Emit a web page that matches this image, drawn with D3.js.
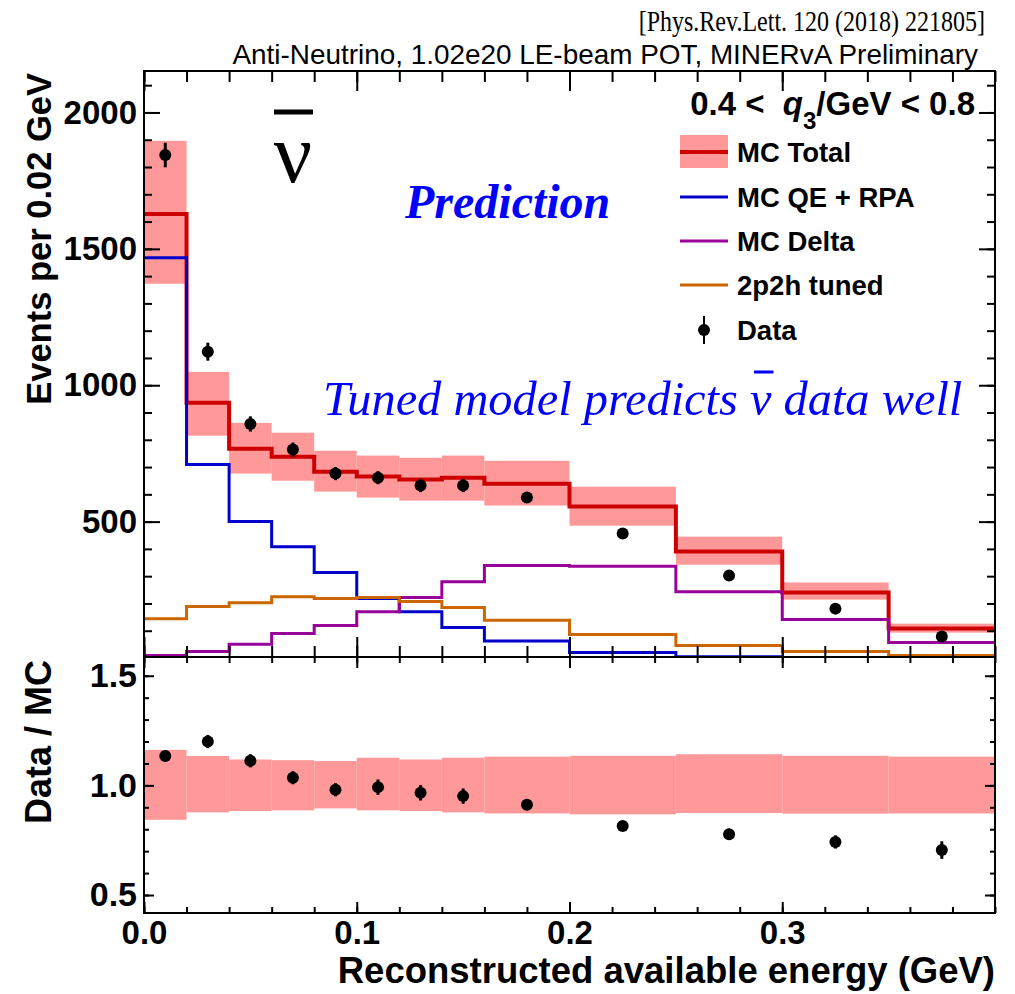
<!DOCTYPE html>
<html>
<head>
<meta charset="utf-8">
<script src="https://cdn.jsdelivr.net/npm/d3@7"></script>
<style>
body { margin: 0; background: #fff; }
svg text { font-family: "Liberation Sans", Arial, Helvetica, sans-serif; }
.serif { font-family: "Liberation Serif", "Times New Roman", serif !important; }
</style>
</head>
<body>
<div id="chart"></div>
<script>
// bin edges of reconstructed available energy (GeV)
var binEdges = [0, 0.02, 0.04, 0.06, 0.08, 0.10, 0.12, 0.14, 0.16, 0.20, 0.25, 0.30, 0.35, 0.40];

// events per 0.02 GeV
var dataVals = [1844, 1123, 858, 764, 676, 661, 632, 632, 588, 456, 302, 181, 79];
var dataErr  = [45, 33, 28, 26, 24, 24, 24, 24, 16, 14, 12, 11, 10];
var mcTotal  = [1628, 936, 767, 738, 683, 665, 654, 661, 639, 555, 390, 240, 108];
var mcHi     = [1896, 1049, 862, 826, 760, 742, 734, 742, 723, 628, 445, 277, 126];
var mcLo     = [1372, 815, 676, 650, 610, 588, 577, 577, 559, 485, 342, 214, 93];
var qeRpa    = [1467, 709, 500, 408, 313, 218, 170, 112, 62, 20, 5, 2, 1];
var delta    = [9, 24, 50, 90, 119, 170, 222, 280, 339, 336, 243, 141, 57];
var twoP2h   = [144, 189, 203, 225, 218, 222, 207, 185, 138, 86, 46, 24, 9];

// ratio panel
var ratioVals = [1.134, 1.20, 1.112, 1.035, 0.98, 0.992, 0.966, 0.951, 0.912, 0.815, 0.777, 0.742, 0.705];
var ratioErr  = [0.025, 0.03, 0.03, 0.03, 0.03, 0.035, 0.035, 0.035, 0.025, 0.02, 0.025, 0.03, 0.04];
var bandHi    = [1.162, 1.134, 1.118, 1.115, 1.111, 1.126, 1.118, 1.126, 1.131, 1.135, 1.142, 1.135, 1.131];
var bandLo    = [0.843, 0.877, 0.883, 0.886, 0.895, 0.886, 0.883, 0.877, 0.872, 0.868, 0.874, 0.871, 0.872];

var upperTicks = [500, 1000, 1500, 2000];
var ratioTicks = [0.5, 1.0, 1.5];
var xTicks = [0, 0.1, 0.2, 0.3];

var legendItems = [
    {label: "MC Total", color: "#cc0000", kind: "band"},
    {label: "MC QE + RPA", color: "#0000cc", kind: "line"},
    {label: "MC Delta", color: "#990099", kind: "line"},
    {label: "2p2h tuned", color: "#cc6600", kind: "line"},
    {label: "Data", color: "#000", kind: "point"}
];

var width = 1015, height = 994;
var left = 144, right = 995, topY = 71, midY = 657, botY = 913;

var svg = d3.select("#chart").append("svg")
    .attr("width", width)
    .attr("height", height);

var x = d3.scaleLinear().domain([0, 0.4]).range([left, right]);
var yUp = d3.scaleLinear().domain([0, 2152]).range([658, topY]);
var yLo = d3.scaleLinear().domain([0.418, 1.59]).range([botY, 656]);

var bins = d3.range(dataVals.length);
var center = function (i) { return (binEdges[i] + binEdges[i + 1]) / 2; };

svg.append("clipPath").attr("id", "clipUp")
    .append("rect").attr("x", left).attr("y", topY).attr("width", right - left).attr("height", midY - topY);

// --> UPPER PANEL
var up = svg.append("g").attr("clip-path", "url(#clipUp)");

up.selectAll("rect.band")
    .data(bins)
    .enter().append("rect")
    .attr("class", "band")
    .attr("x", function (i) { return x(binEdges[i]); })
    .attr("width", function (i) { return x(binEdges[i + 1]) - x(binEdges[i]); })
    .attr("y", function (i) { return yUp(mcHi[i]); })
    .attr("height", function (i) { return yUp(mcLo[i]) - yUp(mcHi[i]); })
    .attr("fill", "#ff9999");

function stepPath(vals) {
    var pts = vals.map(function (v, i) { return [binEdges[i], v]; });
    pts.push([binEdges[binEdges.length - 1], vals[vals.length - 1]]);
    return d3.line()
        .x(function (d) { return x(d[0]); })
        .y(function (d) { return yUp(d[1]); })
        .curve(d3.curveStepAfter)(pts);
}

up.append("path").attr("d", stepPath(mcTotal)).attr("fill", "none").attr("stroke", "#cc0000").attr("stroke-width", 4);
up.append("path").attr("d", stepPath(qeRpa)).attr("fill", "none").attr("stroke", "#0000cc").attr("stroke-width", 3);
up.append("path").attr("d", stepPath(delta)).attr("fill", "none").attr("stroke", "#990099").attr("stroke-width", 3);
up.append("path").attr("d", stepPath(twoP2h)).attr("fill", "none").attr("stroke", "#cc6600").attr("stroke-width", 3);

up.selectAll("line.err")
    .data(bins)
    .enter().append("line")
    .attr("class", "err")
    .attr("x1", function (i) { return x(center(i)); })
    .attr("x2", function (i) { return x(center(i)); })
    .attr("y1", function (i) { return yUp(dataVals[i] + dataErr[i]); })
    .attr("y2", function (i) { return yUp(dataVals[i] - dataErr[i]); })
    .attr("stroke", "#000").attr("stroke-width", 3);

up.selectAll("circle.pt")
    .data(bins)
    .enter().append("circle")
    .attr("class", "pt")
    .attr("cx", function (i) { return x(center(i)); })
    .attr("cy", function (i) { return yUp(dataVals[i]); })
    .attr("r", 6)
    .attr("fill", "#000");

// --> LOWER PANEL
var lo = svg.append("g");

lo.selectAll("rect.band")
    .data(bins)
    .enter().append("rect")
    .attr("class", "band")
    .attr("x", function (i) { return x(binEdges[i]); })
    .attr("width", function (i) { return x(binEdges[i + 1]) - x(binEdges[i]); })
    .attr("y", function (i) { return yLo(bandHi[i]); })
    .attr("height", function (i) { return yLo(bandLo[i]) - yLo(bandHi[i]); })
    .attr("fill", "#ff9999");

lo.selectAll("line.err")
    .data(bins)
    .enter().append("line")
    .attr("class", "err")
    .attr("x1", function (i) { return x(center(i)); })
    .attr("x2", function (i) { return x(center(i)); })
    .attr("y1", function (i) { return yLo(ratioVals[i] + ratioErr[i]); })
    .attr("y2", function (i) { return yLo(ratioVals[i] - ratioErr[i]); })
    .attr("stroke", "#000").attr("stroke-width", 3);

lo.selectAll("circle.pt")
    .data(bins)
    .enter().append("circle")
    .attr("class", "pt")
    .attr("cx", function (i) { return x(center(i)); })
    .attr("cy", function (i) { return yLo(ratioVals[i]); })
    .attr("r", 6)
    .attr("fill", "#000");

// --> AXES
function cleanAxis(g) {
    g.select(".domain").remove();
    g.selectAll(".tick line").attr("stroke", "#000").attr("stroke-width", 2);
}

var minorX = d3.range(0, 0.4001, 0.02);

// upper panel x ticks (top and bottom, inward)
svg.append("g").attr("transform", "translate(0," + topY + ")")
    .call(d3.axisTop(x).tickValues(minorX).tickSize(-11).tickFormat("")).call(cleanAxis);
svg.append("g").attr("transform", "translate(0," + topY + ")")
    .call(d3.axisTop(x).tickValues(xTicks).tickSize(-20).tickFormat("")).call(cleanAxis);
svg.append("g").attr("transform", "translate(0," + midY + ")")
    .call(d3.axisBottom(x).tickValues(minorX).tickSize(-11).tickFormat("")).call(cleanAxis);
svg.append("g").attr("transform", "translate(0," + midY + ")")
    .call(d3.axisBottom(x).tickValues(xTicks).tickSize(-20).tickFormat("")).call(cleanAxis);

// upper panel y ticks
var minorUp = d3.range(100, 2152, 100);
svg.append("g").attr("transform", "translate(" + left + ",0)")
    .call(d3.axisLeft(yUp).tickValues(minorUp).tickSize(-8).tickFormat("")).call(cleanAxis);
svg.append("g").attr("class", "ylab").attr("transform", "translate(" + left + ",0)")
    .call(d3.axisLeft(yUp).tickValues(upperTicks).tickSize(-16).tickPadding(7).tickFormat(d3.format("d"))).call(cleanAxis);
svg.append("g").attr("transform", "translate(" + right + ",0)")
    .call(d3.axisRight(yUp).tickValues(minorUp).tickSize(-8).tickFormat("")).call(cleanAxis);
svg.append("g").attr("transform", "translate(" + right + ",0)")
    .call(d3.axisRight(yUp).tickValues(upperTicks).tickSize(-16).tickFormat("")).call(cleanAxis);

// lower panel x ticks
svg.append("g").attr("transform", "translate(0," + midY + ")")
    .call(d3.axisTop(x).tickValues(minorX).tickSize(-6).tickFormat("")).call(cleanAxis);
svg.append("g").attr("transform", "translate(0," + midY + ")")
    .call(d3.axisTop(x).tickValues(xTicks).tickSize(-11).tickFormat("")).call(cleanAxis);
svg.append("g").attr("transform", "translate(0," + botY + ")")
    .call(d3.axisBottom(x).tickValues(minorX).tickSize(-6).tickFormat("")).call(cleanAxis);
svg.append("g").attr("class", "xlab").attr("transform", "translate(0," + botY + ")")
    .call(d3.axisBottom(x).tickValues(xTicks).tickSize(-11).tickPadding(8).tickFormat(d3.format(".1f"))).call(cleanAxis);

// lower panel y ticks
var minorLo = d3.range(0.5, 1.59, 0.1);
svg.append("g").attr("transform", "translate(" + left + ",0)")
    .call(d3.axisLeft(yLo).tickValues(minorLo).tickSize(-5).tickFormat("")).call(cleanAxis);
svg.append("g").attr("class", "ylab2").attr("transform", "translate(" + left + ",0)")
    .call(d3.axisLeft(yLo).tickValues(ratioTicks).tickSize(-10).tickPadding(7).tickFormat(d3.format(".1f"))).call(cleanAxis);
svg.append("g").attr("transform", "translate(" + right + ",0)")
    .call(d3.axisRight(yLo).tickValues(minorLo).tickSize(-5).tickFormat("")).call(cleanAxis);
svg.append("g").attr("transform", "translate(" + right + ",0)")
    .call(d3.axisRight(yLo).tickValues(ratioTicks).tickSize(-10).tickFormat("")).call(cleanAxis);

svg.selectAll(".ylab text")
    .attr("font-family", "Liberation Sans, Arial, sans-serif")
    .attr("font-size", 33).attr("font-weight", "bold").attr("fill", "#000");
svg.selectAll(".ylab2 text")
    .attr("font-family", "Liberation Sans, Arial, sans-serif")
    .attr("font-size", 34).attr("font-weight", "bold").attr("fill", "#000");
svg.selectAll(".xlab text")
    .attr("font-family", "Liberation Sans, Arial, sans-serif")
    .attr("font-size", 33).attr("font-weight", "bold").attr("fill", "#000");

// frames
svg.append("rect").attr("x", left).attr("y", topY).attr("width", right - left).attr("height", midY - topY)
    .attr("fill", "none").attr("stroke", "#000").attr("stroke-width", 2);
svg.append("rect").attr("x", left).attr("y", midY).attr("width", right - left).attr("height", botY - midY)
    .attr("fill", "none").attr("stroke", "#000").attr("stroke-width", 2);

// axis titles
svg.append("text")
    .attr("transform", "translate(51," + (topY + 2) + ") rotate(-90)")
    .attr("text-anchor", "end")
    .attr("font-size", 34.5).attr("font-weight", "bold")
    .text("Events per 0.02 GeV");
svg.append("text")
    .attr("transform", "translate(51," + (midY + 3) + ") rotate(-90)")
    .attr("text-anchor", "end")
    .attr("font-size", 36).attr("font-weight", "bold")
    .text("Data / MC");
svg.append("text")
    .attr("x", right).attr("y", 983)
    .attr("text-anchor", "end")
    .attr("font-size", 36.5).attr("font-weight", "bold")
    .text("Reconstructed available energy (GeV)");

// header (ROOT prints this one narrow)
svg.append("text").attr("class", "serif")
    .attr("transform", "translate(985,31) scale(0.8,1)")
    .attr("text-anchor", "end")
    .attr("font-size", 30)
    .text("[Phys.Rev.Lett. 120 (2018) 221805]");
svg.append("text")
    .attr("x", 978).attr("y", 64)
    .attr("text-anchor", "end")
    .attr("font-size", 27.9)
    .text("Anti-Neutrino, 1.02e20 LE-beam POT, MINERvA Preliminary");

// anti-neutrino symbol
svg.append("text").attr("class", "serif")
    .attr("x", 293).attr("y", 182)
    .attr("text-anchor", "middle")
    .attr("font-size", 85)
    .text("ν");
svg.append("line")
    .attr("x1", 274).attr("x2", 313).attr("y1", 112).attr("y2", 112)
    .attr("stroke", "#000").attr("stroke-width", 5);

svg.append("text").attr("class", "serif")
    .attr("x", 405).attr("y", 218)
    .attr("font-size", 48).attr("font-weight", "bold").attr("font-style", "italic")
    .attr("fill", "#0000ff")
    .text("Prediction");

// "Tuned model predicts nu-bar data well"
var noteX = 323, noteY = 415;
var prefix = "Tuned model predicts\u00a0";
var note = svg.append("text").attr("class", "serif")
    .attr("x", noteX).attr("y", noteY)
    .attr("font-size", 48.4).attr("font-style", "italic").attr("fill", "#0000ff")
    .text(prefix + "ν\u00a0data well");
var nu = note.node().getExtentOfChar(prefix.length);
svg.append("line")
    .attr("x1", nu.x + 4).attr("x2", nu.x + nu.width + 2)
    .attr("y1", noteY - 43).attr("y2", noteY - 43)
    .attr("stroke", "#0000ff").attr("stroke-width", 3);

// --> LEGEND
var q3 = svg.append("text")
    .attr("x", 975).attr("y", 115)
    .attr("text-anchor", "end")
    .attr("font-size", 33).attr("font-weight", "bold");
q3.append("tspan").text("0.4 <\u00a0\u00a0");
q3.append("tspan").attr("font-style", "italic").text("q");
q3.append("tspan").attr("font-size", 24).attr("dy", 14).text("3");
q3.append("tspan").attr("dy", -14).text("/GeV < 0.8");

var legY = [152, 197, 241, 285, 330];
var leg = svg.append("g");
legendItems.forEach(function (d, i) {
    var yy = legY[i];
    if (d.kind === "band") {
        leg.append("rect").attr("x", 680).attr("y", yy - 17).attr("width", 48).attr("height", 33).attr("fill", "#ff9999");
        leg.append("line").attr("x1", 680).attr("x2", 728).attr("y1", yy).attr("y2", yy)
            .attr("stroke", d.color).attr("stroke-width", 4);
    } else if (d.kind === "line") {
        leg.append("line").attr("x1", 680).attr("x2", 728).attr("y1", yy).attr("y2", yy)
            .attr("stroke", d.color).attr("stroke-width", 3);
    } else {
        leg.append("line").attr("x1", 704).attr("x2", 704).attr("y1", yy - 14).attr("y2", yy + 14)
            .attr("stroke", "#000").attr("stroke-width", 2);
        leg.append("circle").attr("cx", 704).attr("cy", yy).attr("r", 6).attr("fill", "#000");
    }
    leg.append("text")
        .attr("x", 737).attr("y", yy)
        .attr("dy", "0.36em")
        .attr("font-size", 27.5).attr("font-weight", "bold")
        .text(d.label);
});
</script>
</body>
</html>
